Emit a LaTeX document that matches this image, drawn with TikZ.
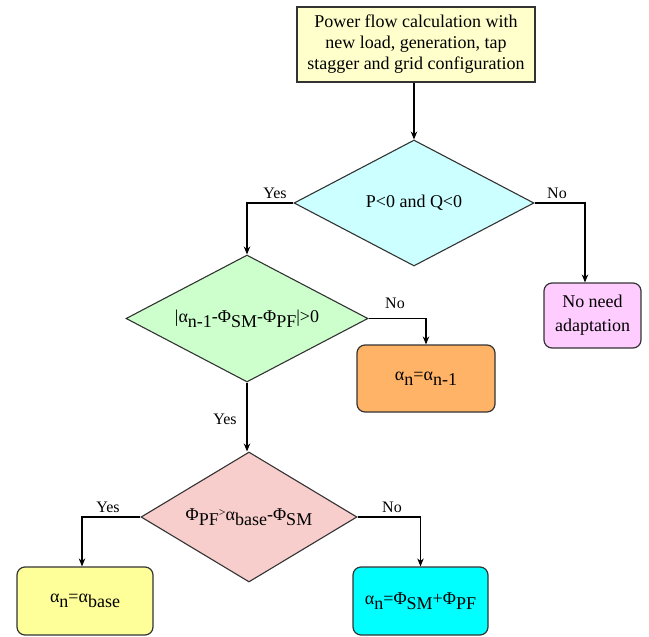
\documentclass[tikz,border=0pt]{standalone}
\usepackage{fontspec}
\setmainfont{Liberation Serif}
\newfontfamily\chartfont{Liberation Serif}
\usetikzlibrary{shapes.geometric,arrows.meta}
\newcommand\subtx[1]{\raisebox{-5pt}{#1}}
\newcommand\smallgt{{\fontsize{12}{12}\selectfont\raisebox{4pt}{>}}}
\definecolor{edgegray}{HTML}{333333}
\definecolor{startfill}{HTML}{FFFFCC}
\definecolor{qfill}{HTML}{CCFFFF}
\definecolor{greenfill}{HTML}{CCFFCC}
\definecolor{pinkfill}{HTML}{F8CECC}
\definecolor{magfill}{HTML}{FFCCFF}
\definecolor{orangefill}{HTML}{FFB366}
\definecolor{yellowfill}{HTML}{FFFF99}
\definecolor{cyanfill}{HTML}{00FFFF}
\tikzset{
  x=1pt, y=1pt,
  every node/.style={font=\chartfont\fontsize{18}{21}\selectfont, text=black},
  mathtext/.style={font=\chartfont\fontsize{18}{18}\selectfont},
  procbox/.style={draw=edgegray, line width=1.2pt, align=center, inner sep=0pt},
  endbox/.style={procbox, rounded corners=8pt},
  decision/.style={diamond, aspect=2, draw=edgegray, line width=1.1pt, inner sep=0pt},
  flow/.style={draw=black, line width=1.1pt, -{Stealth[length=8pt,width=6.5pt]}},
  lbl/.style={font=\chartfont\fontsize{16}{16}\selectfont}
}
\begin{document}
\begin{tikzpicture}
\useasboundingbox (0,0) rectangle (649,-637);

% process start
\node[procbox, fill=startfill, minimum width=238, minimum height=75] (start) at (416,-44.5)
  {Power flow calculation with\\new load, generation, tap\\stagger and grid configuration};

% decisions
\node[decision, fill=qfill, minimum width=240, minimum height=126] (d1) at (414,-203)
  {P<0 and Q<0};
\node[decision, fill=greenfill, minimum width=242, minimum height=127, mathtext] (d2) at (247,-318.5)
  {|α\subtx{n-1}-Φ\subtx{SM}-Φ\subtx{PF}|>0};
\node[decision, fill=pinkfill, minimum width=216, minimum height=130, mathtext] (d3) at (249,-517)
  {Φ\subtx{PF}\smallgt α\subtx{base}-Φ\subtx{SM}};

% outcomes
\node[endbox, fill=magfill, minimum width=97, minimum height=65, font=\chartfont\fontsize{18}{24}\selectfont] (noadapt) at (592.5,-315.5)
  {No need\\adaptation};
\node[endbox, fill=orangefill, minimum width=138, minimum height=67, mathtext] (keep) at (426,-378.5)
  {α\subtx{n}=α\subtx{n-1}};
\node[endbox, fill=yellowfill, minimum width=136, minimum height=68, mathtext] (base) at (85,-601)
  {α\subtx{n}=α\subtx{base}};
\node[endbox, fill=cyanfill, minimum width=135, minimum height=68, mathtext] (sum) at (420.5,-601)
  {α\subtx{n}=Φ\subtx{SM}+Φ\subtx{PF}};

% connectors
\draw[flow] (start.south -| d1.north) -- (d1.north);
\draw[flow] (d1.west) -| (d2.north);
\draw[flow] (d1.east) -| ([xshift=-7.5pt]noadapt.north);
\draw[flow] (d2.east) -| (keep.north);
\draw[flow] (d2.south) -- (d2.south |- d3.north);
\draw[flow] (d3.west) -| ([xshift=-3pt]base.north);
\draw[flow] (d3.east) -| (sum.north);

% branch labels
\node[lbl] (y1) at (275,-193) {Yes};
\node[lbl] (n1) at (557,-193) {No};
\node[lbl] (n2) at (395,-303) {No};
\node[lbl] (y2) at (225,-419) {Yes};
\node[lbl] (y3) at (108,-507) {Yes};
\node[lbl] (n3) at (392,-507) {No};
\end{tikzpicture}
\end{document}
